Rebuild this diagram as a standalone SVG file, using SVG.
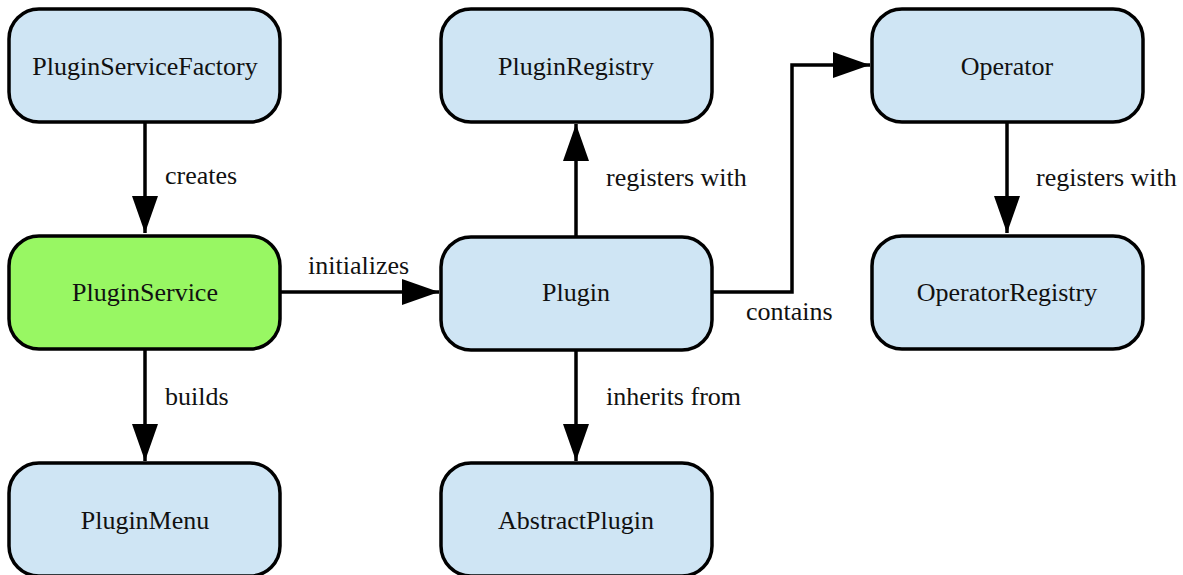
<svg xmlns="http://www.w3.org/2000/svg" width="1183" height="575" viewBox="0 0 1183 575">
<style>
.n{fill:#cfe5f4;stroke:#000;stroke-width:3.5}
.g{fill:#98f763}
.t{font-family:"Liberation Serif",serif;font-size:26px;text-anchor:middle;fill:#111}
.l{font-family:"Liberation Serif",serif;font-size:26px;fill:#111}
.e{fill:none;stroke:#000;stroke-width:3.5}
</style>
<defs>
<marker id="a" markerUnits="userSpaceOnUse" markerWidth="38" markerHeight="26" refX="37" refY="13" orient="auto"><path d="M0,0 L37,13 L0,26 Z" fill="#000"/></marker>
</defs>
<rect width="1183" height="575" fill="#fff"/>
<g id="connectors">
<path class="e" d="M145,122 V233" marker-end="url(#a)"/>
<text class="l" x="165" y="184">creates</text>
<path class="e" d="M281,292 H439" marker-end="url(#a)"/>
<text class="l" x="308" y="274">initializes</text>
<path class="e" d="M145,349 V461" marker-end="url(#a)"/>
<text class="l" x="165" y="405">builds</text>
<path class="e" d="M576,237 V124" marker-end="url(#a)"/>
<text class="l" x="606" y="186">registers with</text>
<path class="e" d="M576,351 V461" marker-end="url(#a)"/>
<text class="l" x="606" y="405">inherits from</text>
<path class="e" d="M712,292 H792 V65 H870" marker-end="url(#a)"/>
<text class="l" x="746" y="320">contains</text>
<path class="e" d="M1007,122 V233" marker-end="url(#a)"/>
<text class="l" x="1036" y="186">registers with</text>
</g>
<g id="PluginServiceFactory"><rect class="n" x="9" y="9" width="271" height="113" rx="30"/><text class="t" x="145" y="75">PluginServiceFactory</text></g>
<g id="PluginService"><rect class="n g" x="9" y="236" width="271" height="113" rx="30"/><text class="t" x="145" y="301">PluginService</text></g>
<g id="PluginMenu"><rect class="n" x="9" y="463" width="271" height="113" rx="30"/><text class="t" x="145" y="529">PluginMenu</text></g>
<g id="PluginRegistry"><rect class="n" x="441" y="9" width="271" height="113" rx="30"/><text class="t" x="576" y="75">PluginRegistry</text></g>
<g id="Plugin"><rect class="n" x="441" y="237" width="271" height="113" rx="30"/><text class="t" x="576" y="301">Plugin</text></g>
<g id="AbstractPlugin"><rect class="n" x="441" y="463" width="271" height="113" rx="30"/><text class="t" x="576" y="529">AbstractPlugin</text></g>
<g id="Operator"><rect class="n" x="872" y="9" width="271" height="113" rx="30"/><text class="t" x="1007" y="75">Operator</text></g>
<g id="OperatorRegistry"><rect class="n" x="872" y="236" width="271" height="113" rx="30"/><text class="t" x="1007" y="301">OperatorRegistry</text></g>
</svg>
